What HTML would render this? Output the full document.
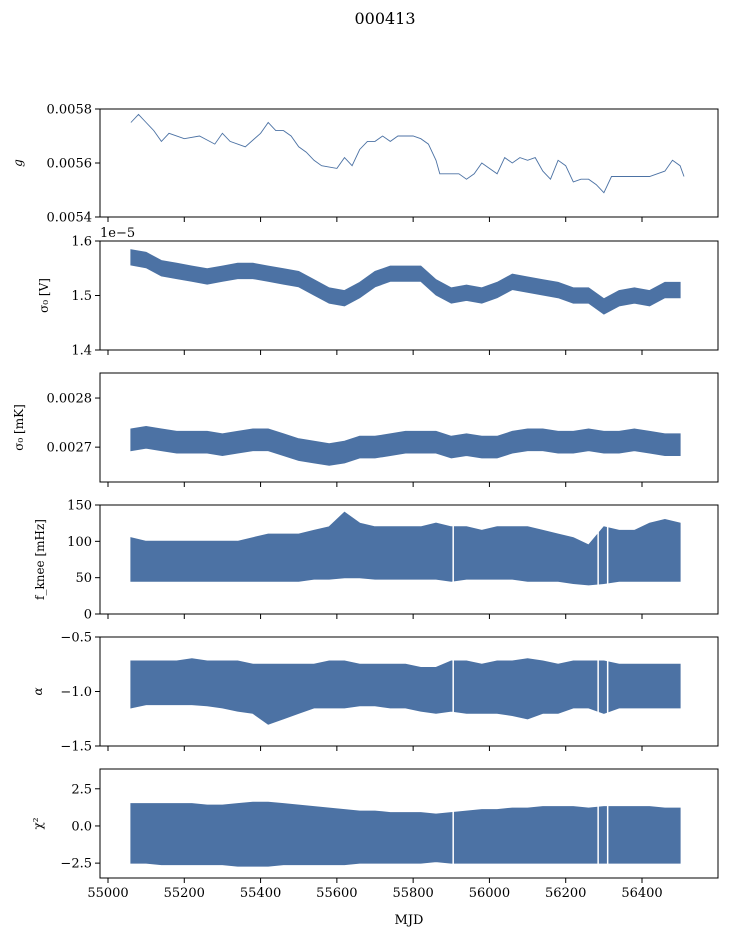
<!DOCTYPE html>
<html><head><meta charset="utf-8">
<style>
body{margin:0;background:#fff;}
svg{display:block;font-family:"DejaVu Serif","Liberation Serif",serif;}
</style></head>
<body>
<svg id="fig" width="729" height="936">
<text x="385" y="24" font-size="16" text-anchor="middle">000413</text>
</svg>
<script>
const mjd=[55060,55100,55140,55180,55220,55260,55300,55340,55380,55420,55460,55500,55540,55580,55620,55660,55700,55740,55780,55820,55860,55900,55940,55980,56020,56060,56100,56140,56180,56220,56260,56300,56340,56380,56420,56460,56500];
const gainMjd=[55060,55080,55100,55120,55140,55160,55200,55240,55280,55300,55320,55360,55400,55420,55440,55460,55480,55500,55520,55540,55560,55600,55620,55640,55660,55680,55700,55720,55740,55760,55800,55820,55840,55860,55870,55900,55920,55940,55960,55980,56000,56020,56040,56060,56080,56100,56120,56140,56160,56180,56200,56220,56240,56260,56280,56300,56320,56340,56380,56420,56460,56480,56500,56510];
const gain=[0.00575,0.00578,0.00575,0.00572,0.00568,0.00571,0.00569,0.0057,0.00567,0.00571,0.00568,0.00566,0.00571,0.00575,0.00572,0.00572,0.0057,0.00566,0.00564,0.00561,0.00559,0.00558,0.00562,0.00559,0.00565,0.00568,0.00568,0.0057,0.00568,0.0057,0.0057,0.00569,0.00567,0.00561,0.00556,0.00556,0.00556,0.00554,0.00556,0.0056,0.00558,0.00556,0.00562,0.0056,0.00562,0.00561,0.00562,0.00557,0.00554,0.00561,0.00559,0.00553,0.00554,0.00554,0.00552,0.00549,0.00555,0.00555,0.00555,0.00555,0.00557,0.00561,0.00559,0.00555];
const sigV=[1.57,1.565,1.55,1.545,1.54,1.535,1.54,1.545,1.545,1.54,1.535,1.53,1.515,1.5,1.495,1.51,1.53,1.54,1.54,1.54,1.515,1.5,1.505,1.5,1.51,1.525,1.52,1.515,1.51,1.5,1.5,1.48,1.495,1.5,1.495,1.51,1.51];
const sigK=[2.715,2.72,2.715,2.71,2.71,2.71,2.705,2.71,2.715,2.715,2.705,2.695,2.69,2.685,2.69,2.7,2.7,2.705,2.71,2.71,2.71,2.7,2.705,2.7,2.7,2.71,2.715,2.715,2.71,2.71,2.715,2.71,2.71,2.715,2.71,2.705,2.705];
const fkLo=[45,45,45,45,45,45,45,45,45,45,45,45,48,48,50,50,48,48,48,48,48,45,48,48,48,48,45,45,45,42,40,42,45,45,45,45,45];
const fkHi=[105,100,100,100,100,100,100,100,105,110,110,110,115,120,140,125,120,120,120,120,125,120,120,115,120,120,120,115,110,105,95,120,115,115,125,130,125];
const alLo=[-1.15,-1.12,-1.12,-1.12,-1.12,-1.13,-1.15,-1.18,-1.2,-1.3,-1.25,-1.2,-1.15,-1.15,-1.15,-1.13,-1.13,-1.15,-1.15,-1.18,-1.2,-1.18,-1.2,-1.2,-1.2,-1.22,-1.25,-1.2,-1.2,-1.15,-1.15,-1.2,-1.15,-1.15,-1.15,-1.15,-1.15];
const alHi=[-0.72,-0.72,-0.72,-0.72,-0.7,-0.72,-0.72,-0.72,-0.75,-0.75,-0.75,-0.75,-0.75,-0.72,-0.72,-0.75,-0.75,-0.75,-0.75,-0.78,-0.78,-0.72,-0.72,-0.75,-0.72,-0.72,-0.7,-0.72,-0.75,-0.72,-0.72,-0.72,-0.75,-0.75,-0.75,-0.75,-0.75];
const chLo=[-2.5,-2.5,-2.6,-2.6,-2.6,-2.6,-2.6,-2.7,-2.7,-2.7,-2.6,-2.6,-2.6,-2.6,-2.6,-2.5,-2.5,-2.5,-2.5,-2.5,-2.4,-2.5,-2.5,-2.5,-2.5,-2.5,-2.5,-2.5,-2.5,-2.5,-2.5,-2.5,-2.5,-2.5,-2.5,-2.5,-2.5];
const chHi=[1.5,1.5,1.5,1.5,1.5,1.4,1.4,1.5,1.6,1.6,1.5,1.4,1.3,1.2,1.1,1.0,1.0,0.9,0.9,0.9,0.8,0.9,1.0,1.1,1.1,1.2,1.2,1.3,1.3,1.3,1.2,1.3,1.3,1.3,1.3,1.2,1.2];
const gaps=[55905,56285,56310];
const xTicks=[55000,55200,55400,55600,55800,56000,56200,56400];

const NS="http://www.w3.org/2000/svg";
const svg=document.getElementById('fig');
const X0=100,X1=718,C='#4c72a4';
function xs(v){return 108+(v-55000)*534/1400;}
function mk(t,a,p){const e=document.createElementNS(NS,t);for(const k in a)e.setAttribute(k,a[k]);(p||svg).appendChild(e);return e;}
const panels=[
 {y0:109,y1:217,lo:0.0054,hi:0.0058,ticks:[0.0054,0.0056,0.0058],fmt:v=>v.toFixed(4),label:'g',name:'gain'},
 {y0:241,y1:350,lo:1.4,hi:1.6,ticks:[1.4,1.5,1.6],fmt:v=>v.toFixed(1),label:'σ₀ [V]',name:'sigma-volts'},
 {y0:373,y1:482,lo:2.629,hi:2.851,ticks:[2.7,2.8],fmt:v=>'0.00'+Math.round(v*10),label:'σ₀ [mK]',name:'sigma-mk'},
 {y0:505,y1:614,lo:0,hi:150,ticks:[0,50,100,150],fmt:v=>String(v),label:'f_knee [mHz]',name:'fknee'},
 {y0:637,y1:746,lo:-1.5,hi:-0.5,ticks:[-1.5,-1.0,-0.5],fmt:v=>v.toFixed(1).replace('-','−'),label:'α',name:'alpha'},
 {y0:769,y1:878,lo:-3.5,hi:3.83,ticks:[-2.5,0,2.5],fmt:v=>v.toFixed(1).replace('-','−'),label:'χ²',name:'chi2'}
];
const bands=[null,[sigV.map(v=>v-0.014),sigV.map(v=>v+0.014)],[sigK.map(v=>v-0.022),sigK.map(v=>v+0.022)],[fkLo,fkHi],[alLo,alHi],[chLo,chHi]];
panels.forEach((p,i)=>{
 const ys=v=>p.y1-(v-p.lo)/(p.hi-p.lo)*(p.y1-p.y0);
 const g=mk('g',{});
 
 
 if(i===0){
  const d=gainMjd.map((m,k)=>(k?'L':'M')+xs(m).toFixed(1)+','+ys(gain[k]).toFixed(1)).join('');
  const l=mk('path',{d:d,fill:'none',stroke:C,'stroke-width':0.9},g);
  
  
 } else {
  const [lo,hi]=bands[i];
  let d=mjd.map((m,k)=>(k?'L':'M')+xs(m).toFixed(1)+','+ys(hi[k]).toFixed(1)).join('');
  for(let k=mjd.length-1;k>=0;k--)d+='L'+xs(mjd[k]).toFixed(1)+','+ys(lo[k]).toFixed(1);
  const b=mk('path',{d:d+'Z',fill:C,stroke:C,'stroke-width':1},g);
  
  
  if(i>=3){
   gaps.forEach(m=>{
    const gl=mk('line',{x1:xs(m),x2:xs(m),y1:p.y0+1,y2:p.y1-1,stroke:'#fff','stroke-width':1.5},g);
    
    
   });
  }
 }
 const fr=mk('rect',{x:X0,y:p.y0,width:X1-X0,height:p.y1-p.y0,fill:'none',stroke:'#000','stroke-width':1},g);
 
 
 xTicks.forEach(t=>{
  mk('line',{x1:xs(t),x2:xs(t),y1:p.y1,y2:p.y1+5,stroke:'#000'},g);
  if(i===5){const tx=mk('text',{x:xs(t),y:p.y1+19,'font-size':13,'text-anchor':'middle'},g);tx.textContent=t;
   
   }
 });
 p.ticks.forEach(t=>{
  const y=ys(t);
  mk('line',{x1:X0-5,x2:X0,y1:y,y2:y,stroke:'#000'},g);
  const tx=mk('text',{x:X0-8,y:y+4.5,'font-size':13,'text-anchor':'end'},g);tx.textContent=p.fmt(t);
  
  
 });
 const yl=mk('text',{x:0,y:0,'font-size':12,'text-anchor':'middle',transform:`translate(${i===0?22:i===3?44:i===2?23:i===1?48:42},${(p.y0+p.y1)/2}) rotate(-90)`,'font-style':i===0||i===4?'italic':'normal'},g);
 yl.textContent=p.label;
 
 
});
const off=mk('text',{x:100,y:237,'font-size':13});off.textContent='1e−5';


const xl=mk('text',{x:409,y:924,'font-size':13,'text-anchor':'middle'});xl.textContent='MJD';


</script>
</body></html>
